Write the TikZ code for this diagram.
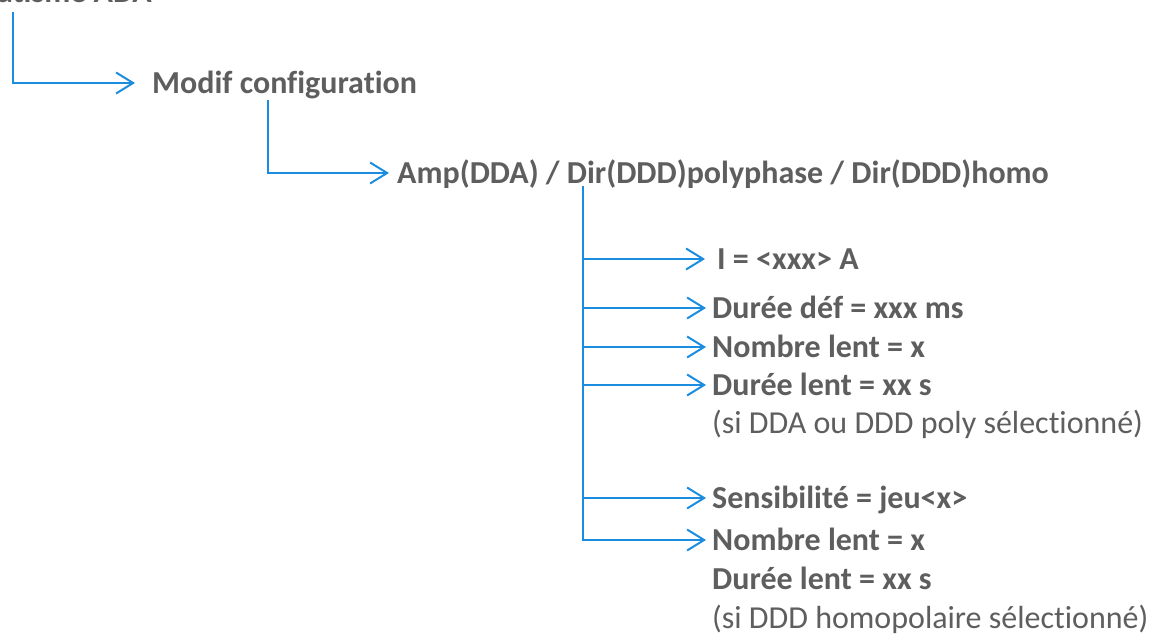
\documentclass[tikz,border=0pt]{standalone}
\usepackage{fontspec}
\setmainfont{Carlito}[Ligatures=NoCommon]
\usetikzlibrary{arrows.meta,positioning}
\definecolor{plava}{HTML}{1B8DE0}
\definecolor{siva}{HTML}{5E5E5E}

\begin{document}
\begin{tikzpicture}[x=1pt, y=-1pt,
  conn/.style={draw=plava, line width=2pt,
               -{Straight Barb[length=17pt, width=21pt]}},
  head/.style={anchor=west, text=siva, font=\fontsize{32}{38}\selectfont\bfseries,
               text height=20pt, text depth=0pt, inner xsep=17pt, inner ysep=0pt},
  item/.style={head, inner xsep=6pt},
  note/.style={item, font=\fontsize{32}{38}\selectfont}
]
\useasboundingbox (0,0) rectangle (1150,634);
\clip (0,0) rectangle (1150,634);

\node[head, anchor=base east, inner sep=0pt] (root) at (152,3) {Automatisme ADA};

\coordinate (s1) at (13,12);
\node[head] (modif) at (135,83) {Modif configuration};
\draw[conn] (s1) |- (modif.west);

\coordinate (s2) at (268,100);
\node[head, inner xsep=8pt] (choix) at (389,173) {Amp(DDA) / Dir(DDD)polyphase / Dir(DDD)homo};
\draw[conn] (s2) |- (choix.west);

% branches du choix
\coordinate (s3) at (583,186);
\node[item, inner xsep=12pt] (seuil) at (705,259) {I = <xxx> A};
\node[item] (ddef) at (706,308) {Durée déf = xxx ms};
\node[item] (nlent1) at (706,347) {Nombre lent = x};
\node[item] (dlent1) at (706,385) {Durée lent = xx s};
\node[note] (note1) at (706,423) {(si DDA ou DDD poly sélectionné)};

\node[item] (sens) at (706,498) {Sensibilité = jeu<x>};
\node[item] (nlent2) at (706,540) {Nombre lent = x};
\node[item] (dlent2) at (706,579) {Durée lent = xx s};
\node[note] (note2) at (706,618) {(si DDD homopolaire sélectionné)};

\draw[conn] (s3) |- (seuil.west);
\draw[conn] (s3) |- (ddef.west);
\draw[conn] (s3) |- (nlent1.west);
\draw[conn] (s3) |- (dlent1.west);
\draw[conn] (s3) |- (sens.west);
\draw[conn] (s3) |- (nlent2.west);
\end{tikzpicture}
\end{document}
